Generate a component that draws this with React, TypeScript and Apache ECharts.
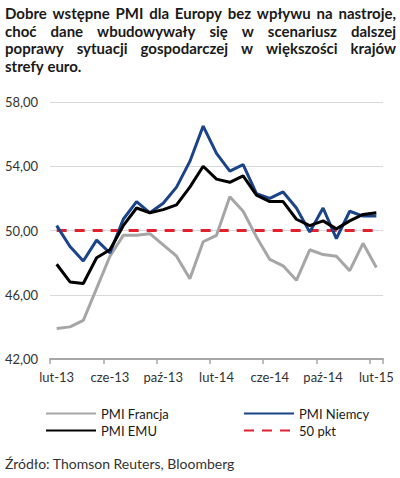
import React, { useEffect, useRef } from "react";
import * as echarts from "echarts";

const titleLines = [
  "Dobre wstępne PMI dla Europy bez wpływu na nastroje,",
  "choć dane wbudowywały się w scenariusz dalszej",
  "poprawy sytuacji gospodarczej w większości krajów",
  "strefy euro.",
];
const sourceText = "Źródło: Thomson Reuters, Bloomberg";

const months = [
  "lut-13", "mar-13", "kwi-13", "maj-13", "cze-13", "lip-13", "sie-13", "wrz-13",
  "paź-13", "lis-13", "gru-13", "sty-14", "lut-14", "mar-14", "kwi-14", "maj-14",
  "cze-14", "lip-14", "sie-14", "wrz-14", "paź-14", "lis-14", "gru-14", "sty-15", "lut-15",
];
const pmiFrancja = [43.9, 44.0, 44.4, 46.4, 48.4, 49.7, 49.7, 49.8, 49.1, 48.4, 47.0, 49.3, 49.7, 52.1, 51.2, 49.6, 48.2, 47.8, 46.9, 48.8, 48.5, 48.4, 47.5, 49.2, 47.7];
const pmiNiemcy = [50.3, 49.0, 48.1, 49.4, 48.6, 50.7, 51.8, 51.1, 51.7, 52.7, 54.3, 56.5, 54.8, 53.7, 54.1, 52.3, 52.0, 52.4, 51.4, 49.9, 51.4, 49.5, 51.2, 50.9, 50.9];
const pmiEMU = [47.9, 46.8, 46.7, 48.3, 48.8, 50.3, 51.4, 51.1, 51.3, 51.6, 52.7, 54.0, 53.2, 53.0, 53.4, 52.2, 51.8, 51.8, 50.7, 50.3, 50.6, 50.1, 50.6, 51.0, 51.1];
const level50 = months.map(() => 50);

const FONT = "Lato, 'Open Sans', sans-serif";

function buildTitle(): any[] {
  const els: any[] = [];
  const canvas = document.createElement("canvas");
  const ctx = canvas.getContext("2d")!;
  const size = 15;
  ctx.font = `bold ${size}px Lato`;
  const left = 5;
  const width = 391;
  titleLines.forEach((line, li) => {
    const y = 13 + li * 17.5;
    const words = line.split(" ");
    const isLast = li === titleLines.length - 1;
    const widths = words.map((w) => ctx.measureText(w).width);
    const total = widths.reduce((a, b) => a + b, 0);
    const gap = isLast || words.length < 2 ? ctx.measureText(" ").width : (width - total) / (words.length - 1);
    let x = left;
    words.forEach((w, wi) => {
      els.push({
        type: "text",
        x,
        y,
        style: {
          text: w,
          font: `bold ${size}px ${FONT}`,
          fill: "#1a1a1a",
          textVerticalAlign: "middle",
          verticalAlign: "middle",
        },
      });
      x += widths[wi] + gap;
    });
  });
  els.push({
    type: "text",
    x: 5,
    y: 463,
    style: {
      text: sourceText,
      font: `14px ${FONT}`,
      fill: "#333333",
      verticalAlign: "middle",
      textVerticalAlign: "middle",
    },
  });
  return els;
}

export default function App() {
  const ref = useRef<HTMLDivElement>(null);
  useEffect(() => {
    if (!ref.current) return;
    const chart = echarts.init(ref.current, null, { renderer: "svg" });
    const legendCommon = {
      orient: "vertical" as const,
      top: 402,
      itemWidth: 50,
      itemHeight: 14,
      itemGap: 4,
      itemStyle: { opacity: 0 },
      textStyle: { fontSize: 13, color: "#1a1a1a", fontFamily: FONT },
    };
    chart.setOption({
      animation: false,
      textStyle: { fontFamily: FONT },
      grid: { left: 50, right: 17, top: 102, bottom: 119, containLabel: false },
      xAxis: {
        type: "category",
        data: months,
        boundaryGap: true,
        axisLine: { lineStyle: { color: "#a6a6a6", width: 2 } },
        axisTick: { show: true, interval: 3, length: 5, lineStyle: { color: "#a6a6a6", width: 1.5 } },
        axisLabel: { interval: 3, color: "#333333", fontSize: 13, margin: 11, fontFamily: FONT },
      },
      yAxis: {
        type: "value",
        min: 42,
        max: 58,
        interval: 4,
        axisLine: { show: false },
        axisTick: { show: false },
        axisLabel: {
          color: "#333333",
          fontSize: 13,
          margin: 12,
          fontFamily: FONT,
          formatter: (v: number) => v.toFixed(2).replace(".", ","),
        },
        splitLine: { lineStyle: { color: "#d9d9d9", width: 1 } },
      },
      legend: [
        { ...legendCommon, left: 40, data: ["PMI Francja", "PMI EMU"] },
        { ...legendCommon, left: 238, data: ["PMI Niemcy", "50 pkt"] },
      ],
      graphic: buildTitle(),
      series: [
        {
          name: "50 pkt",
          type: "line",
          data: level50,
          symbol: "none",
          z: 1,
          lineStyle: { color: "#e3202e", width: 3, type: [10, 8] },
          itemStyle: { color: "#e3202e" },
        },
        {
          name: "PMI Francja",
          type: "line",
          data: pmiFrancja,
          symbol: "none",
          z: 2,
          lineStyle: { color: "#a6a6a6", width: 3 },
          itemStyle: { color: "#a6a6a6" },
        },
        {
          name: "PMI Niemcy",
          type: "line",
          data: pmiNiemcy,
          symbol: "none",
          z: 3,
          lineStyle: { color: "#1b4389", width: 3 },
          itemStyle: { color: "#1b4389" },
        },
        {
          name: "PMI EMU",
          type: "line",
          data: pmiEMU,
          symbol: "none",
          z: 4,
          lineStyle: { color: "#000000", width: 3 },
          itemStyle: { color: "#000000" },
        },
      ],
    });
    return () => chart.dispose();
  }, []);
  return (
    <div
      ref={ref}
      style={{ position: "fixed", left: 0, top: 0, width: 400, height: 478, background: "#ffffff" }}
    />
  );
}
